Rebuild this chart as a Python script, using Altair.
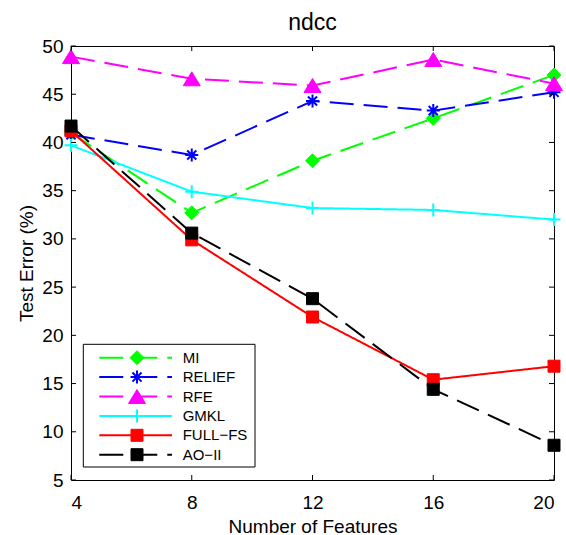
import altair as alt
import pandas as pd

# Number of selected features on the x axis
features = [4, 8, 12, 16, 20]

# Test error (%) of each feature-selection method
mi = [41.0, 32.7, 38.1, 42.5, 47.0]
relief = [40.8, 38.7, 44.3, 43.3, 45.2]
rfe = [48.9, 46.6, 45.9, 48.6, 46.1]
gmkl = [39.7, 34.9, 33.2, 33.0, 32.0]
full_fs = [41.2, 29.9, 21.9, 15.4, 16.8]
ao_ii = [41.7, 30.6, 23.8, 14.4, 8.6]

series_names = ["MI", "RELIEF", "RFE", "GMKL", "FULL\u2212FS", "AO\u2212II"]
series_values = [mi, relief, rfe, gmkl, full_fs, ao_ii]

y_ticks = [5, 10, 15, 20, 25, 30, 35, 40, 45, 50]

# marker paths, drawn inside the [-1, 1] box
ASTERISK = "M-1,0L1,0M0,-1L0,1M-0.7,-0.7L0.7,0.7M-0.7,0.7L0.7,-0.7"
PLUS = "M-1,0L1,0M0,-1L0,1"
TRIANGLE = "M0,-0.82L1,0.82L-1,0.82Z"

DASH = [24, 10]
SOLID = [1, 0]

styles = {
    "MI": dict(color="#00ff00", dash=DASH, shape="diamond", filled=True, size=196),
    "RELIEF": dict(color="#0000ff", dash=DASH, shape=ASTERISK, filled=False, size=169),
    "RFE": dict(color="#ff00ff", dash=DASH, shape=TRIANGLE, filled=True, size=289),
    "GMKL": dict(color="#00ffff", dash=SOLID, shape=PLUS, filled=False, size=169),
    "FULL\u2212FS": dict(color="#ff0000", dash=SOLID, shape="square", filled=True, size=144),
    "AO\u2212II": dict(color="#000000", dash=DASH, shape="square", filled=True, size=144),
}

FONT = "Liberation Sans"
W, H = 483, 434

rows = []
for name, vals in zip(series_names, series_values):
    for f, v in zip(features, vals):
        rows.append({"series": name, "features": f, "error": v})
df = pd.DataFrame(rows)

x_enc = alt.X(
    "features:Q",
    scale=alt.Scale(domain=[4, 20], nice=False, zero=False),
    axis=alt.Axis(values=features, title="Number of Features", labelPadding=13,
                  titleY=52, titleBaseline="alphabetic"),
)
y_enc = alt.Y(
    "error:Q",
    scale=alt.Scale(domain=[5, 50], nice=False, zero=False),
    axis=alt.Axis(values=y_ticks, title="Test Error (%)", labelPadding=8,
                  titleX=-39, titleY=H / 2, titleAngle=270,
                  titleBaseline="alphabetic", titleAlign="center"),
)


def marker_props(st):
    pt = dict(shape=st["shape"], size=st["size"], opacity=1)
    if st["filled"]:
        pt.update(filled=True, fill=st["color"], stroke=st["color"], strokeWidth=1)
    else:
        pt.update(filled=False, stroke=st["color"], strokeWidth=2)
    return pt


layers = []
for name in series_names:
    st = styles[name]
    sub = alt.Chart(df).transform_filter(alt.datum.series == name)
    layers.append(
        sub.mark_line(color=st["color"], strokeWidth=2, strokeDash=st["dash"])
        .encode(x=x_enc, y=y_enc)
    )
    layers.append(sub.mark_point(**marker_props(st)).encode(x=x_enc, y=y_enc))

# inward tick marks on all four sides of the frame
xt = pd.DataFrame({"features": features})
yt = pd.DataFrame({"error": y_ticks})
tick_x = alt.X("features:Q")
tick_y = alt.Y("error:Q")
layers += [
    alt.Chart(xt).mark_rule(color="black", strokeWidth=1)
    .encode(x=tick_x, y=alt.value(H), y2=alt.value(H - 5)),
    alt.Chart(xt).mark_rule(color="black", strokeWidth=1)
    .encode(x=tick_x, y=alt.value(0), y2=alt.value(5)),
    alt.Chart(yt).mark_rule(color="black", strokeWidth=1)
    .encode(y=tick_y, x=alt.value(0), x2=alt.value(5)),
    alt.Chart(yt).mark_rule(color="black", strokeWidth=1)
    .encode(y=tick_y, x=alt.value(W), x2=alt.value(W - 5)),
]

# chart title above the frame
layers.append(
    alt.Chart(pd.DataFrame({"title": ["ndcc"]}))
    .mark_text(font=FONT, fontSize=23, color="black", align="center", baseline="alphabetic")
    .encode(text="title:N", x=alt.value(W / 2), y=alt.value(-16))
)

main = alt.layer(*layers)

# legend box in the lower-left corner
leg_df = pd.DataFrame({"series": series_names, "row": list(range(len(series_names)))})
leg_y = alt.Y("row:Q", scale=alt.Scale(domain=[0, 5], range=[311.7, 408.7]), axis=None)

legend_layers = [
    alt.Chart(pd.DataFrame({"box": [0]}))
    .mark_rect(fill="white", stroke="black", strokeWidth=1)
    .encode(x=alt.value(12.3), x2=alt.value(184), y=alt.value(298.3), y2=alt.value(421))
]
for name in series_names:
    st = styles[name]
    sub = alt.Chart(leg_df).transform_filter(alt.datum.series == name)
    legend_layers.append(
        sub.mark_rule(color=st["color"], strokeWidth=2, strokeDash=st["dash"])
        .encode(y=leg_y, x=alt.value(28.3), x2=alt.value(101))
    )
    legend_layers.append(sub.mark_point(**marker_props(st)).encode(y=leg_y, x=alt.value(66)))
    legend_layers.append(
        sub.mark_text(align="left", baseline="middle", font=FONT, fontSize=15, color="black")
        .encode(y=leg_y, x=alt.value(111.7), text="series:N")
    )

legend = alt.layer(*legend_layers)

chart = (
    alt.layer(main, legend)
    .resolve_scale(y="independent")
    .properties(
        width=W,
        height=H,
        background="white",
        autosize=alt.AutoSizeParams(type="none"),
        padding={"left": 71, "top": 46, "right": 12, "bottom": 55},
    )
    .configure_view(stroke="black", strokeWidth=1)
    .configure_axis(
        domain=False, ticks=False, grid=False,
        labelFont=FONT, labelFontSize=19, labelColor="black",
        titleFont=FONT, titleFontSize=19, titleFontWeight="normal", titleColor="black",
    )
)

chart.save("out.html", embed_options={"renderer": "svg", "actions": False})
